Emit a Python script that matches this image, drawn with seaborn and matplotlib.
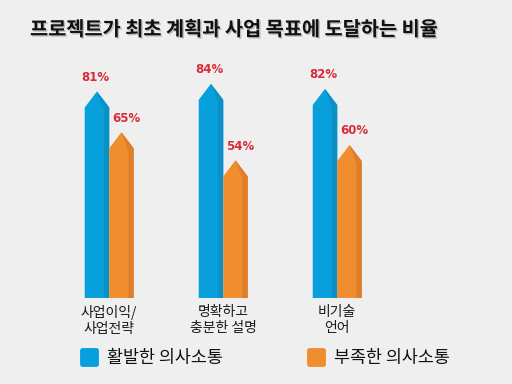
import matplotlib
matplotlib.use('Agg')
import matplotlib.pyplot as plt
import matplotlib.patheffects as pe
import seaborn as sns
import pandas as pd
from matplotlib.patches import Polygon
from matplotlib.lines import Line2D
from matplotlib.markers import MarkerStyle

categories = ['사업이익/\n사업전략', '명확하고\n충분한 설명', '비기술\n언어']
series = ['활발한 의사소통', '부족한 의사소통']
active = [81, 84, 82]
poor = [65, 54, 60]
title = '프로젝트가 최초 계획과 사업 목표에 도달하는 비율'

bg = '#f0eff0'
colors = ['#08a0dc', '#ef8d2f']
dark = ['#0b90c8', '#de7e2b']
red = '#d92b3a'

sns.set_theme(style='white')
plt.rcParams['font.family'] = ['Noto Sans CJK KR', 'DejaVu Sans']

df = pd.DataFrame({
    'category': categories * 2,
    'series': [series[0]] * len(categories) + [series[1]] * len(categories),
    'value': active + poor,
})

fig = plt.figure(figsize=(5.12, 3.84), dpi=100, facecolor=bg)
ax = fig.add_axes([0.102, 0.224, 0.668, 0.664])
ax.set_facecolor(bg)
sns.barplot(data=df, x='category', y='value', hue='series', hue_order=series,
            palette=colors, width=0.43, gap=0, saturation=1, legend=False,
            errorbar=None, ax=ax)
ax.set_ylim(0, 100)
ax.set_xlim(-0.5, 2.5)

tip = 6.3
bars = list(ax.patches)
for i, p in enumerate(bars):
    s = i // len(categories)
    x, w, h = p.get_x(), p.get_width(), p.get_height()
    p.set_visible(False)
    body = [(x, 0), (x, h - tip), (x + w / 2, h), (x + w, h - tip), (x + w, 0)]
    ax.add_patch(Polygon(body, closed=True, facecolor=colors[s], edgecolor='none', zorder=3))
    strip = [(x + 0.78 * w, 0), (x + 0.78 * w, h - tip - 1), (x + w / 2, h),
             (x + w, h - tip), (x + w, 0)]
    ax.add_patch(Polygon(strip, closed=True, facecolor=dark[s], edgecolor='none', zorder=3))
    dx = -2 if s == 0 else 5
    ax.annotate(f'{h:.0f}%', (x + w / 2, h), xytext=(dx, 14), textcoords='offset pixels',
                ha='center', va='center', fontsize=8.5, weight='bold', color=red,
                family=['DejaVu Sans'])

for sp in ax.spines.values():
    sp.set_visible(False)
ax.set_yticks([])
ax.set_xlabel('')
ax.set_ylabel('')
ax.tick_params(axis='x', length=0, pad=5, labelsize=10, labelcolor='#1a1a1a')

fig.text(30 / 512, 1 - 30 / 384, title, fontsize=14.2, weight='bold', va='center', ha='left',
         color='#111111',
         path_effects=[pe.withSimplePatchShadow(offset=(1, -1), shadow_rgbFace='#888888', alpha=0.5)])

handles = [Line2D([], [], ls='', marker=MarkerStyle('s', joinstyle='round'), ms=10,
                  mfc=c, mec=c, mew=3.5) for c in colors]
fig.legend(handles=handles, labels=series, ncol=2, loc='center left',
           bbox_to_anchor=(65 / 512, 1 - 358 / 384), frameon=False, fontsize=12.5,
           columnspacing=4.9, handletextpad=0.5, handlelength=1.0, labelcolor='#111111')

fig.savefig('out.png', dpi=100, facecolor=bg)
